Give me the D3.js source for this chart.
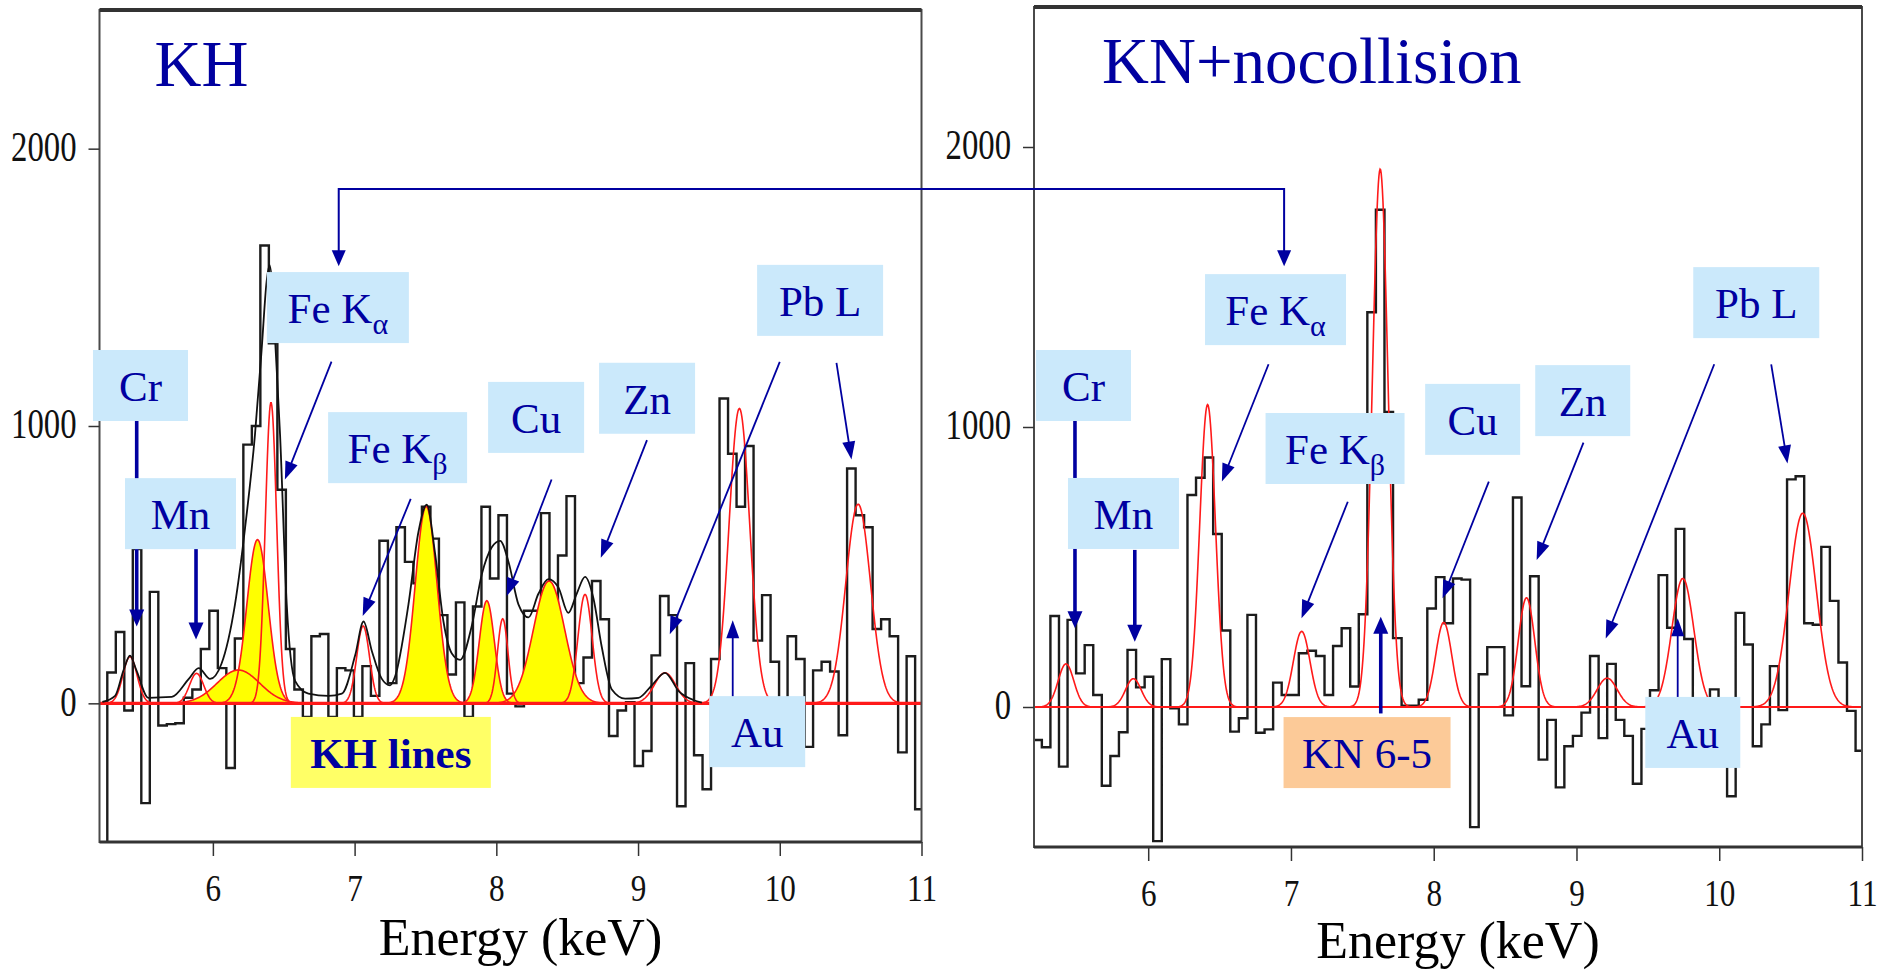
<!DOCTYPE html>
<html>
<head>
<meta charset="utf-8">
<script src="https://cdn.jsdelivr.net/npm/d3@7"></script>
<style>
body { margin: 0; background: #fff; }
text { font-family: "Liberation Serif", "Times New Roman", serif; }
</style>
</head>
<body>
<svg id="plot" width="1884" height="971"></svg>
<script>
//histogram bins are 0.06 keV wide, the first one starts at 5.195 keV
const binStart = 5.195, binWidth = 0.06;

//counts per bin, left spectrum (KH)
const khCounts = [-520, 111, 257, -26, 556, -360, 402, -80, -75, -72,
  20, 50, 196, 334, 127, -233, 234, 933, 1000, 1651,
  1298, 770, 196, 50, -49, 242, 250, -49, 127, 119,
  -49, 134, 27, 586, 73, 635, 510, 433, 709, 594,
  318, 104, 364, -49, 349, 709, 450, 678, 35, -11,
  334, 334, 686, 310, 533, 747, 73, 165, 441, 303,
  -118, -26, 4, -226, -172, 173, 387, 318, -371, 145,
  -187, -310, 160, 1099, 900, 709, 928, 226, 390, 150,
  -60, 242, 160, -157, 119, 150, 115, -115, 847, 678,
  635, 268, 303, 242, -177, 170, -382];

//counts per bin, right spectrum (KN+nocollision)
const knCounts = [-118, -144, 325, -213, 311, 120, 221, 43, -281, -175,
  -90, 204, 70, 108, -479, 171, -5, -62, 757, 819,
  891, 618, 273, -88, -40, 329, -92, -80, 87, 43,
  43, 192, 201, 182, 43, 218, 281, 73, 331, 1410,
  1776, 1054, 246, 5, 5, 26, 352, 464, 299, 459,
  455, -429, 117, 214, 214, -30, 748, 74, 467, -188,
  -46, -287, -140, -103, -20, 182, -111, 154, -46, -103,
  -274, -78, 60, 471, 283, 636, 243, 30, -20, 63,
  -120, -319, 336, 223, -140, -62, 146, -11, 813, 824,
  299, 294, 572, 379, 159, -14, -156];

//fitted lines, left panel (red)
const khLineCenters = [5.415, 5.885, 6.41, 7.06, 8.045, 8.626, 9.19, 9.715, 10.553];
const khLineAmps    = [168, 108, 1085, 279, 305, 393, 110, 1063, 718];
const khLineSigmas  = [0.05, 0.05, 0.04, 0.045, 0.037, 0.05, 0.075, 0.073, 0.087];

//KH lines, left panel (yellow)
const khBandCenters = [6.18, 6.315, 7.505, 7.933, 8.372];
const khBandAmps    = [120, 590, 710, 370, 441];
const khBandSigmas  = [0.15, 0.075, 0.077, 0.053, 0.11];

//total model curve, left panel (black)
const khModelE = [5.22, 5.31, 5.37, 5.415, 5.46, 5.545, 5.71, 5.83, 5.90, 5.98, 6.06, 6.156, 6.227, 6.297,
  6.344, 6.379, 6.40, 6.42, 6.438, 6.474, 6.521, 6.58, 6.674, 6.815, 6.91, 7.004, 7.063, 7.122, 7.19,
  7.25, 7.285, 7.38, 7.45, 7.509, 7.568, 7.627, 7.686, 7.745, 7.827, 7.897, 7.968, 8.027, 8.086, 8.156,
  8.227, 8.297, 8.367, 8.438, 8.508, 8.567, 8.626, 8.685, 8.744, 8.815, 8.909, 9.003, 9.097, 9.19, 9.29,
  9.39, 9.45];
const khModelV = [5, 27, 120, 172, 120, 20, 23, 88, 127, 88, 142, 357, 632, 969,
  1275, 1520, 1580, 1500, 1321, 969, 357, 81, 35, 27, 35, 173, 295, 188, 90,
  65, 96, 357, 617, 716, 540, 295, 180, 157, 280, 464, 563, 586, 510, 357,
  310, 395, 448, 418, 326, 395, 456, 379, 203, 50, 17, 20, 65, 110, 42,
  12, 3];

//fitted lines, right panel (red)
const knLineCenters = [5.424, 5.896, 6.416, 7.075, 7.625, 8.07, 8.65, 9.215, 9.745, 10.585];
const knLineAmps    = [154, 101, 1080, 270, 1921, 302, 390, 103, 459, 692];
const knLineSigmas  = [0.055, 0.055, 0.055, 0.058, 0.055, 0.057, 0.058, 0.07, 0.077, 0.095];

const xTicks = [6, 7, 8, 9, 10, 11];
const yTicks = [0, 1000, 2000];

//label boxes: left edge (keV), top edge (counts), width in px
const khLabels = [
  {t: "Cr", e: 5.154, v: 1274, w: 95},
  {t: "Mn", e: 5.380, v: 812, w: 111},
  {t: "Fe K", sub: "\u03b1", e: 6.381, v: 1555, w: 142},
  {t: "Fe K", sub: "\u03b2", e: 6.813, v: 1050, w: 139},
  {t: "Cu", e: 7.942, v: 1159, w: 96},
  {t: "Zn", e: 8.725, v: 1228, w: 96},
  {t: "Pb L", e: 9.840, v: 1581, w: 126},
  {t: "Au", e: 9.502, v: 26, w: 96},
  {t: "KH lines", e: 6.550, v: -49, w: 200, fill: "#ffff66", bold: true}
];
const knLabels = [
  {t: "Cr", e: 5.214, v: 1275, w: 95},
  {t: "Mn", e: 5.438, v: 818, w: 111},
  {t: "Fe K", sub: "\u03b1", e: 6.398, v: 1546, w: 141},
  {t: "Fe K", sub: "\u03b2", e: 6.822, v: 1050, w: 139},
  {t: "Cu", e: 7.940, v: 1154, w: 95},
  {t: "Zn", e: 8.711, v: 1221, w: 95},
  {t: "Pb L", e: 9.818, v: 1571, w: 126},
  {t: "Au", e: 9.482, v: 36, w: 95},
  {t: "KN 6-5", e: 6.948, v: -36, w: 167, fill: "#fcca98"}
];

//arrows: from [keV, counts] to [keV, counts]
const khArrows = [
  {a: [5.4625, 1021], b: [5.4625, 277], thick: true},
  {a: [5.881, 560], b: [5.881, 230], thick: true},
  {a: [6.837, 1232], b: [6.508, 807]},
  {a: [7.396, 737], b: [7.057, 315]},
  {a: [8.39, 807], b: [8.073, 387]},
  {a: [9.063, 949], b: [8.737, 525]},
  {a: [10.0, 1231], b: [9.224, 249]},
  {a: [10.40, 1228], b: [10.506, 879]},
  {a: [9.668, 20], b: [9.668, 300]}
];
const knArrows = [
  {a: [5.487, 1022], b: [5.487, 281], thick: true},
  {a: [5.906, 561], b: [5.906, 233], thick: true},
  {a: [6.843, 1224], b: [6.516, 805]},
  {a: [7.398, 733], b: [7.074, 317]},
  {a: [8.386, 805], b: [8.062, 388]},
  {a: [9.049, 944], b: [8.721, 525]},
  {a: [9.965, 1224], b: [9.205, 245]},
  {a: [10.364, 1224], b: [10.478, 870]},
  {a: [9.709, 31], b: [9.709, 317]},
  {a: [7.629, -23], b: [7.629, 322], thick: true}
];

const blue = "#0000a0";
const boxBlue = "#cbe9fb";
const serif = "'Liberation Serif', 'Times New Roman', serif";
const svg = d3.select("#plot");

//energy grid for drawing the gaussians
const eGrid = d3.range(5.2, 11.0001, 0.004);
function gauss(c, a, s) {
  return eGrid.map(e => [e, a * Math.exp(-0.5 * ((e - c) / s) ** 2)]);
}

function arrow(g, x1, y1, x2, y2, w, headL, headW) {
  let dx = x2 - x1, dy = y2 - y1, len = Math.hypot(dx, dy);
  let ux = dx / len, uy = dy / len;
  let bx = x2 - ux * headL, by = y2 - uy * headL;
  g.append("line")
    .attr("x1", x1).attr("y1", y1).attr("x2", bx + ux * 2).attr("y2", by + uy * 2)
    .attr("stroke", blue).attr("stroke-width", w);
  g.append("path")
    .attr("d", `M${x2},${y2}L${bx - uy * headW},${by + ux * headW}L${bx + uy * headW},${by - ux * headW}Z`)
    .attr("fill", blue);
}

function drawPanel(p) {
  let x = d3.scaleLinear([5.2, 11], [p.left, p.right]);
  let y = d3.scaleLinear([-500, 2500], [p.bottom, p.top]);
  let g = svg.append("g");

  g.append("clipPath").attr("id", "clip" + p.id)
    .append("rect").attr("x", p.left).attr("y", p.top)
    .attr("width", p.right - p.left).attr("height", p.bottom - p.top);
  let plot = g.append("g").attr("clip-path", `url(#clip${p.id})`);

  //histogram as a step line
  let steps = p.counts.map((c, i) => [binStart + i * binWidth, c]);
  steps.push([binStart + p.counts.length * binWidth, p.counts[p.counts.length - 1]]);
  let stepLine = d3.line().x(d => x(d[0])).y(d => y(d[1])).curve(d3.curveStepAfter);
  plot.append("path").attr("d", stepLine(steps))
    .attr("fill", "none").attr("stroke", "#1c1c1c").attr("stroke-width", 2.4);

  let line = d3.line().x(d => x(d[0])).y(d => y(d[1]));
  let area = d3.area().x(d => x(d[0])).y0(y(0)).y1(d => y(d[1]));

  //yellow bands
  (p.bands || []).forEach(b => {
    plot.append("path").attr("d", area(gauss(b[0], b[1], b[2]))).attr("fill", "#ffff00");
  });

  //zero line
  plot.append("line").attr("x1", p.left).attr("x2", p.right)
    .attr("y1", y(0)).attr("y2", y(0))
    .attr("stroke", "#ff1a1a").attr("stroke-width", p.zeroWidth);

  (p.bands || []).concat(p.lines).forEach(b => {
    plot.append("path").attr("d", line(gauss(b[0], b[1], b[2])))
      .attr("fill", "none").attr("stroke", "#ff1a1a").attr("stroke-width", 1.6);
  });

  //total model
  if (p.model) {
    plot.append("path")
      .attr("d", d3.line().x(d => x(d[0])).y(d => y(d[1])).curve(d3.curveMonotoneX)(p.model))
      .attr("fill", "none").attr("stroke", "#111").attr("stroke-width", 1.8);
  }

  //frame
  g.append("rect").attr("x", p.left).attr("y", p.top)
    .attr("width", p.right - p.left).attr("height", p.bottom - p.top)
    .attr("fill", "none").attr("stroke", "#4a4a4a").attr("stroke-width", 2);
  g.append("line").attr("x1", p.left).attr("x2", p.right)
    .attr("y1", p.top).attr("y2", p.top)
    .attr("stroke", "#333").attr("stroke-width", 4);
  g.append("line").attr("x1", p.left).attr("x2", p.right)
    .attr("y1", p.bottom).attr("y2", p.bottom)
    .attr("stroke", "#333").attr("stroke-width", 3);

  //axes
  let xAx = g.append("g").attr("transform", `translate(0,${p.bottom})`)
    .call(d3.axisBottom(x).tickValues(xTicks).tickSize(14).tickFormat(d3.format("d")));
  xAx.select(".domain").remove();
  xAx.selectAll("line").attr("stroke", "#333").attr("stroke-width", 1.5);
  xAx.selectAll("text").attr("font-size", 38).attr("fill", "#111")
    .attr("y", 59).attr("dy", 0).attr("transform", "scale(0.82,1)")
    .style("font-family", serif);

  let yAx = g.append("g").attr("transform", `translate(${p.left},0)`)
    .call(d3.axisLeft(y).tickValues(yTicks).tickSize(11).tickFormat(d3.format("d")));
  yAx.select(".domain").remove();
  yAx.selectAll("line").attr("stroke", "#333").attr("stroke-width", 1.5);
  yAx.selectAll("text").attr("font-size", 42).attr("fill", "#111")
    .attr("x", -23 / 0.78).attr("dy", "0.28em").attr("transform", "scale(0.78,1)")
    .style("font-family", serif);

  //axis title
  g.append("text").attr("x", (p.left + p.right) / 2 + 10).attr("y", p.bottom + p.titleY)
    .attr("text-anchor", "middle").attr("font-size", 52).attr("fill", "#000")
    .style("font-family", serif)
    .text("Energy (keV)");

  //panel title
  g.append("text").attr("x", p.left + p.titleDx).attr("y", p.top + 76)
    .attr("font-size", 65).attr("fill", blue).style("font-family", serif).text(p.title);

  //arrows
  let ag = g.append("g");
  p.arrows.forEach(a => {
    if (a.thick) arrow(ag, x(a.a[0]), y(a.a[1]), x(a.b[0]), y(a.b[1]), 3.6, 17, 7.5);
    else arrow(ag, x(a.a[0]), y(a.a[1]), x(a.b[0]), y(a.b[1]), 1.8, 18, 6.5);
  });

  //label boxes
  p.labels.forEach(l => {
    let bx = x(l.e), by = y(l.v);
    g.append("rect").attr("x", bx).attr("y", by).attr("width", l.w).attr("height", 71)
      .attr("fill", l.fill || boxBlue);
    let t = g.append("text").attr("x", bx + l.w / 2).attr("y", by + 51)
      .attr("text-anchor", "middle").attr("font-size", 43).attr("fill", blue)
      .style("font-family", serif)
      .attr("font-weight", l.bold ? "bold" : null);
    if (l.sub) {
      t.append("tspan").text(l.t);
      t.append("tspan").attr("font-size", 30).attr("dy", 11).text(l.sub);
    } else {
      t.text(l.t);
    }
  });

  return {x, y};
}

let khPanel = drawPanel({
  id: "kh", left: 99.5, right: 921.5, top: 10, bottom: 842,
  counts: khCounts,
  lines: khLineCenters.map((c, i) => [c, khLineAmps[i], khLineSigmas[i]]),
  bands: khBandCenters.map((c, i) => [c, khBandAmps[i], khBandSigmas[i]]),
  model: khModelE.map((e, i) => [e, khModelV[i]]),
  zeroWidth: 3, title: "KH", titleDx: 55, titleY: 113,
  labels: khLabels, arrows: khArrows
});

let knPanel = drawPanel({
  id: "kn", left: 1034, right: 1862, top: 7, bottom: 847,
  counts: knCounts,
  lines: knLineCenters.map((c, i) => [c, knLineAmps[i], knLineSigmas[i]]),
  zeroWidth: 2, title: "KN+nocollision", titleDx: 68, titleY: 111,
  labels: knLabels, arrows: knArrows
});

//connector between the two Fe K alpha labels
let cg = svg.append("g");
let lx = khPanel.x(6.888), rx = knPanel.x(6.952);
let topY = khPanel.y(1855), lTip = khPanel.y(1576), rTip = knPanel.y(1574);
cg.append("path")
  .attr("d", `M${lx},${lTip - 14}V${topY}H${rx}V${rTip - 14}`)
  .attr("fill", "none").attr("stroke", blue).attr("stroke-width", 2);
[[lx, lTip], [rx, rTip]].forEach(([px, py]) => {
  cg.append("path").attr("d", `M${px},${py}L${px - 7},${py - 16}L${px + 7},${py - 16}Z`)
    .attr("fill", blue);
});
</script>
</body>
</html>
